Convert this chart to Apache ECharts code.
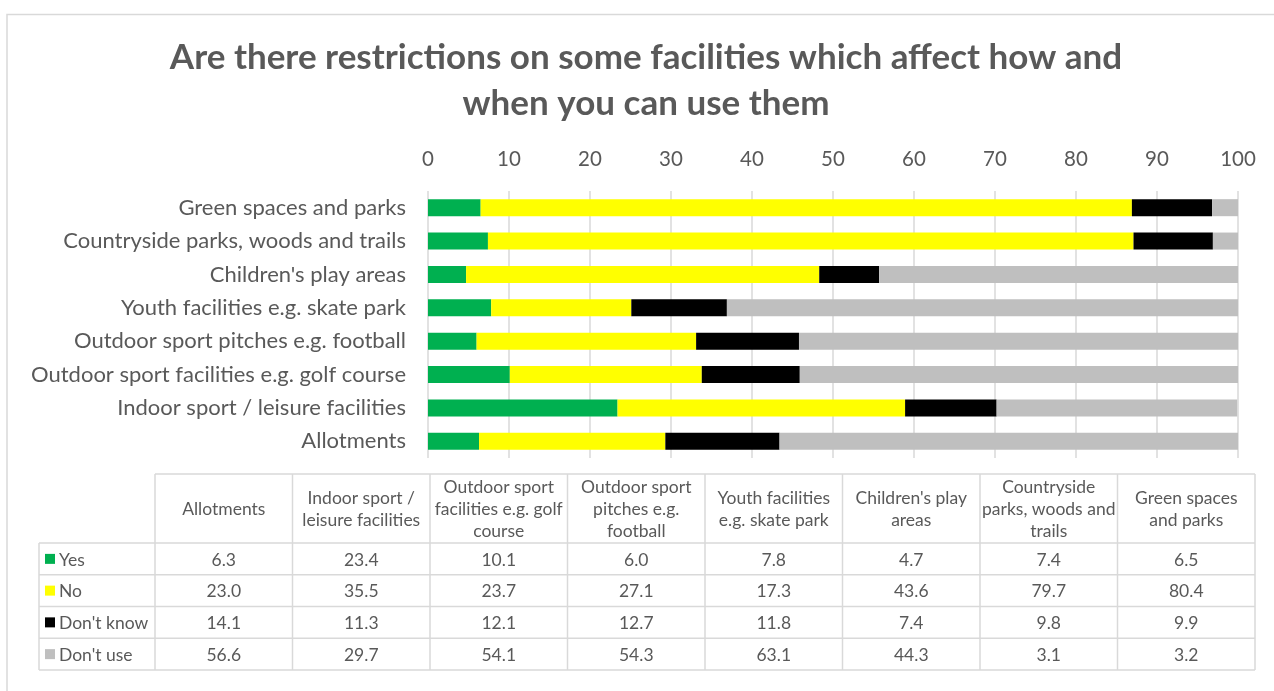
<!DOCTYPE html>
<html>
<head>
<meta charset="utf-8">
<script src="https://cdn.jsdelivr.net/npm/echarts@6/dist/echarts.min.js"></script>
<style>
html,body{margin:0;padding:0;background:#fff;}
#chart{width:1274px;height:691px;}
</style>
</head>
<body>
<div id="chart"></div>
<script>
const titleText = "Are there restrictions on some facilities which affect how and\nwhen you can use them";
const categories = ['Allotments', 'Indoor sport / leisure facilities', 'Outdoor sport facilities e.g. golf course', 'Outdoor sport pitches e.g. football', 'Youth facilities e.g. skate park', "Children's play areas", 'Countryside parks, woods and trails', 'Green spaces and parks'];
const tableHeaders = ['Allotments', 'Indoor sport /\nleisure facilities', 'Outdoor sport\nfacilities e.g. golf\ncourse', 'Outdoor sport\npitches e.g.\nfootball', 'Youth facilities\ne.g. skate park', "Children's play\nareas", 'Countryside\nparks, woods and\ntrails', 'Green spaces\nand parks'];
const seriesNames = ['Yes', 'No', "Don't know", "Don't use"];
const yesValues = [6.3, 23.4, 10.1, 6.0, 7.8, 4.7, 7.4, 6.5];
const noValues = [23.0, 35.5, 23.7, 27.1, 17.3, 43.6, 79.7, 80.4];
const dontKnowValues = [14.1, 11.3, 12.1, 12.7, 11.8, 7.4, 9.8, 9.9];
const dontUseValues = [56.6, 29.7, 54.1, 54.3, 63.1, 44.3, 3.1, 3.2];
const axisMin = 0, axisMax = 100, axisInterval = 10;

const seriesValues = [yesValues, noValues, dontKnowValues, dontUseValues];
const colors = ['#00b050', '#ffff00', '#000000', '#bfbfbf'];
const textColor = '#595959';
const lineColor = '#d9d9d9';
const FONT = 'Lato, "Open Sans", sans-serif';

const chart = echarts.init(document.getElementById('chart'), null, {renderer: 'canvas'});

// table geometry
const tLeft = 39, tCol0 = 155, colW = 137.5, tTop = 474, hdrBottom = 543, rowH = 31.75;
const nCols = categories.length, nRows = seriesNames.length;
const tRight = tCol0 + colW * nCols;
const tBottom = hdrBottom + rowH * nRows;

const graphics = [];
// outer chart border
graphics.push({type: 'polyline', silent: true, shape: {points: [[7, 700], [7, 14.5], [1280, 14.5]]}, style: {stroke: lineColor, lineWidth: 1.5, fill: null}});
// title
graphics.push({type: 'text', x: 646, y: 81, silent: true, style: {text: titleText, font: 'bold 35px ' + FONT, fill: textColor, align: 'center', verticalAlign: 'middle', lineHeight: 46}});
// table lines
graphics.push({type: 'line', silent: true, shape: {x1: tCol0, y1: tTop, x2: tRight, y2: tTop}, style: {stroke: lineColor, lineWidth: 1.5}});
for (let r = 0; r <= nRows; r++) {
  const y = hdrBottom + r * rowH;
  graphics.push({type: 'line', silent: true, shape: {x1: tLeft, y1: y, x2: tRight, y2: y}, style: {stroke: lineColor, lineWidth: 1.5}});
}
graphics.push({type: 'line', silent: true, shape: {x1: tLeft, y1: hdrBottom, x2: tLeft, y2: tBottom}, style: {stroke: lineColor, lineWidth: 1.5}});
for (let c = 0; c <= nCols; c++) {
  const x = tCol0 + c * colW;
  graphics.push({type: 'line', silent: true, shape: {x1: x, y1: tTop, x2: x, y2: tBottom}, style: {stroke: lineColor, lineWidth: 1.5}});
}
// header texts
tableHeaders.forEach((h, c) => {
  graphics.push({type: 'text', silent: true, x: tCol0 + (c + 0.5) * colW, y: (tTop + hdrBottom) / 2 + 1,
    style: {text: h, font: '17.5px ' + FONT, fill: textColor, align: 'center', verticalAlign: 'middle', lineHeight: 22}});
});
// rows
seriesNames.forEach((name, r) => {
  const cy = hdrBottom + (r + 0.5) * rowH;
  graphics.push({type: 'rect', silent: true, shape: {x: 45, y: cy - 5, width: 10, height: 10}, style: {fill: colors[r]}});
  graphics.push({type: 'text', silent: true, x: 59, y: cy + 1, style: {text: name, font: '17.5px ' + FONT, fill: textColor, align: 'left', verticalAlign: 'middle'}});
  seriesValues[r].forEach((v, c) => {
    graphics.push({type: 'text', silent: true, x: tCol0 + (c + 0.5) * colW, y: cy + 1,
      style: {text: v.toFixed(1), font: '17.5px ' + FONT, fill: textColor, align: 'center', verticalAlign: 'middle'}});
  });
});

const option = {
  backgroundColor: '#ffffff',
  animation: false,
  textStyle: {fontFamily: FONT},
  grid: {left: 428, right: 36, top: 191, height: 267, containLabel: false},
  xAxis: {
    type: 'value', position: 'top', min: axisMin, max: axisMax, interval: axisInterval,
    axisLine: {show: false}, axisTick: {show: false},
    axisLabel: {color: textColor, fontSize: 20.5, fontFamily: FONT, margin: 21},
    splitLine: {show: true, lineStyle: {color: lineColor, width: 1.5}}
  },
  yAxis: {
    type: 'category', data: categories,
    axisLine: {show: false}, axisTick: {show: false},
    axisLabel: {color: textColor, fontSize: 22, fontFamily: FONT, margin: 22}
  },
  series: seriesNames.map((name, i) => ({
    name: name, type: 'bar', stack: 'total', data: seriesValues[i],
    barCategoryGap: '49%',
    itemStyle: {color: colors[i]}
  })),
  graphic: graphics
};
chart.setOption(option);
</script>
</body>
</html>
